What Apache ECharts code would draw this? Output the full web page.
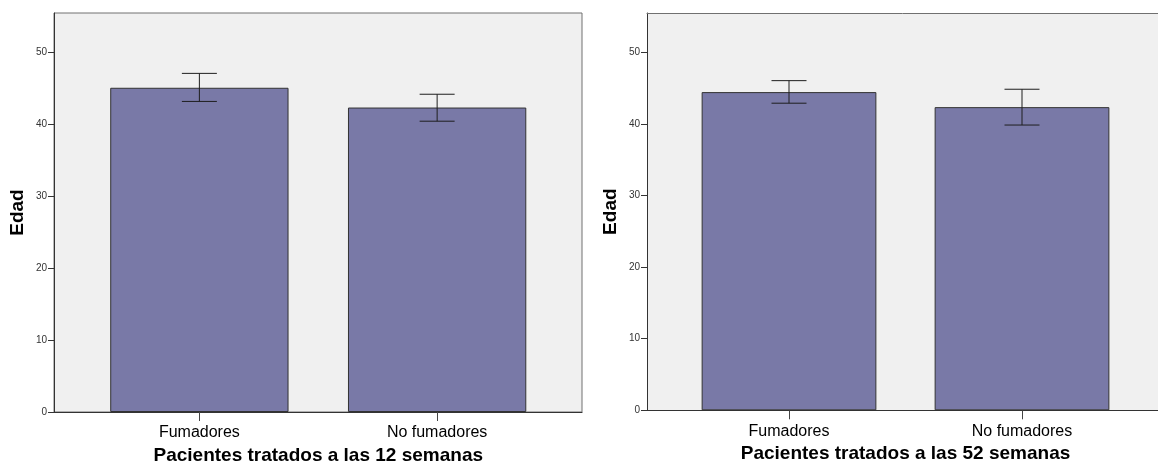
<!DOCTYPE html>
<html>
<head>
<meta charset="utf-8">
<script src="https://cdn.jsdelivr.net/npm/echarts@6/dist/echarts.min.js"></script>
<style>
html,body{margin:0;padding:0;background:#fff;}
#chart{width:1158px;height:471px;}
</style>
</head>
<body>
<div id="chart"></div>
<script>
// ---- data ----
const categories = ['Fumadores', 'No fumadores'];
const yTicks = [0, 10, 20, 30, 40, 50];
const yTitle = 'Edad';
const xTitle12 = 'Pacientes tratados a las 12 semanas';
const xTitle52 = 'Pacientes tratados a las 52 semanas';
const mean12 = [45.1, 42.35];
const low12 = [43.2, 40.45];
const high12 = [47.1, 44.2];
const mean52 = [44.45, 42.35];
const low52 = [42.9, 39.85];
const high52 = [46.05, 44.85];

const FONT = 'Arial, "Liberation Sans", sans-serif';
const YMAX = 55.5;

function errData(lo, hi) {
  return categories.map((c, i) => [i, lo[i], hi[i]]);
}
function errRender(params, api) {
  const x = api.value(0);
  const lo = api.coord([x, api.value(1)]);
  const hi = api.coord([x, api.value(2)]);
  const half = 17.5;
  const style = { stroke: '#1e1e1e', lineWidth: 1 };
  return {
    type: 'group',
    children: [
      { type: 'line', shape: { x1: hi[0], y1: hi[1], x2: lo[0], y2: lo[1] }, style },
      { type: 'line', shape: { x1: hi[0] - half, y1: hi[1], x2: hi[0] + half, y2: hi[1] }, style },
      { type: 'line', shape: { x1: lo[0] - half, y1: lo[1], x2: lo[0] + half, y2: lo[1] }, style }
    ]
  };
}

function bgYAxis(gi) {
  return {
    type: 'value', gridIndex: gi, min: 0, max: YMAX,
    name: yTitle, nameLocation: 'middle', nameGap: 27,
    nameTextStyle: { fontFamily: FONT, fontSize: 19, fontWeight: 'bold', color: '#000' },
    axisLine: { show: true, lineStyle: { color: '#333', width: 1 } },
    axisTick: { show: true, length: 6, lineStyle: { color: '#333' }, customValues: yTicks },
    axisLabel: { fontFamily: FONT, fontSize: 10, color: '#333', margin: 7, customValues: yTicks },
    splitLine: { show: false }
  };
}
function hiddenYAxis(gi) {
  return { type: 'value', gridIndex: gi, min: 0, max: YMAX, show: false };
}
function bgXAxis(gi) {
  return {
    type: 'value', gridIndex: gi, min: 0, max: 1,
    axisLine: { show: true, onZero: false, lineStyle: { color: '#333', width: 1.2 } },
    axisTick: { show: false }, axisLabel: { show: false }, splitLine: { show: false }
  };
}
function topXAxis(gi) {
  return {
    type: 'value', gridIndex: gi, min: 0, max: 1, position: 'top',
    axisLine: { show: true, onZero: false, lineStyle: { color: '#707070', width: 1 } },
    axisTick: { show: false }, axisLabel: { show: false }, splitLine: { show: false }
  };
}
function catXAxis(gi, title) {
  return {
    type: 'category', gridIndex: gi, data: categories,
    name: title, nameLocation: 'middle', nameGap: 34,
    nameTextStyle: { fontFamily: FONT, fontSize: 19, fontWeight: 'bold', color: '#000' },
    axisLine: { show: false },
    axisTick: { show: true, alignWithLabel: true, length: 9, lineStyle: { color: '#444' } },
    axisLabel: { fontFamily: FONT, fontSize: 16, color: '#000', margin: 13 },
    splitLine: { show: false }
  };
}

const option = {
  backgroundColor: '#ffffff',
  animation: false,
  grid: [
    { left: 54, top: 13, width: 528, height: 399, show: true, backgroundColor: '#f0f0f0', borderColor: '#707070', borderWidth: 1 },
    { left: 80.5, top: 13, width: 475.5, height: 399 },
    { left: 647, top: 13, width: 530, height: 397.3, show: true, backgroundColor: '#f0f0f0', borderWidth: 0, borderColor: 'transparent' },
    { left: 672.5, top: 13, width: 466, height: 397.3 }
  ],
  xAxis: [bgXAxis(0), catXAxis(1, xTitle12), bgXAxis(2), catXAxis(3, xTitle52), topXAxis(2)],
  yAxis: [bgYAxis(0), hiddenYAxis(1), bgYAxis(2), hiddenYAxis(3)],
  series: [
    {
      type: 'bar', xAxisIndex: 1, yAxisIndex: 1, data: mean12, barWidth: '75%',
      itemStyle: { color: '#7979a7', borderColor: '#333', borderWidth: 1 }
    },
    {
      type: 'custom', xAxisIndex: 1, yAxisIndex: 1, data: errData(low12, high12),
      renderItem: errRender, z: 5
    },
    {
      type: 'bar', xAxisIndex: 3, yAxisIndex: 3, data: mean52, barWidth: '75%',
      itemStyle: { color: '#7979a7', borderColor: '#333', borderWidth: 1 }
    },
    {
      type: 'custom', xAxisIndex: 3, yAxisIndex: 3, data: errData(low52, high52),
      renderItem: errRender, z: 5
    }
  ]
};

const chart = echarts.init(document.getElementById('chart'), null, { renderer: 'canvas' });
chart.setOption(option);
</script>
</body>
</html>
